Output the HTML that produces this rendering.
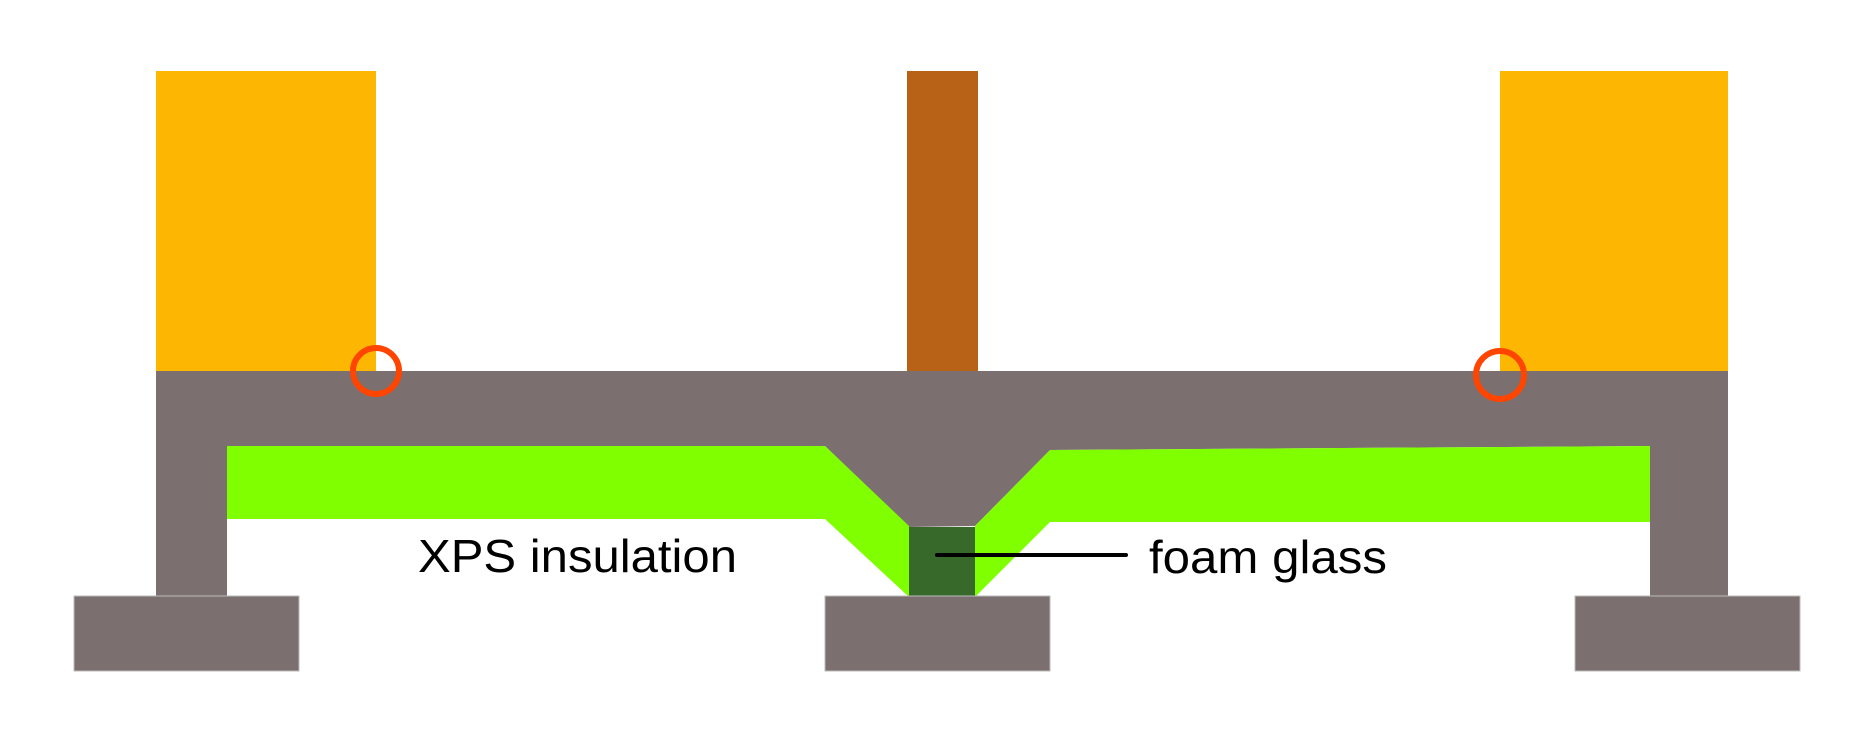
<!DOCTYPE html>
<html><head><meta charset="utf-8"><style>html,body{margin:0;padding:0;background:#fff;}svg{display:block}</style></head>
<body>
<svg width="1875" height="750" viewBox="0 0 1875 750" xmlns="http://www.w3.org/2000/svg">
<rect width="1875" height="750" fill="#fff"/>
<rect x="156" y="71" width="220" height="300" fill="#fdb703"/>
<rect x="1500" y="71" width="228" height="300" fill="#fdb703"/>
<rect x="907" y="71" width="71" height="300" fill="#b86218"/>
<polygon points="156,371 1728,371 1728,446 1650,446 1050,450 975,526 909,527 825,446 156,446" fill="#7b6f6f"/>
<rect x="156" y="446" width="71" height="151" fill="#7b6f6f"/>
<rect x="1650" y="446" width="78" height="151" fill="#7b6f6f"/>
<polygon points="227,446 825,446 909,526 909,597 825,519 227,519" fill="#80ff00"/>
<polygon points="975,526 1050,450 1650,446 1650,522 1050,522 975,597" fill="#80ff00"/>
<rect x="909" y="527" width="66" height="70" fill="#37692b"/>
<rect x="74" y="596" width="225" height="75" fill="#7b6f6f" stroke="#bbb" stroke-width="1"/>
<rect x="825" y="596" width="225" height="75" fill="#7b6f6f" stroke="#bbb" stroke-width="1"/>
<rect x="1575" y="596" width="225" height="75" fill="#7b6f6f" stroke="#bbb" stroke-width="1"/>
<circle cx="376" cy="371" r="23" fill="none" stroke="#ff4500" stroke-width="6"/>
<circle cx="1500" cy="375" r="24" fill="none" stroke="#ff4500" stroke-width="6"/>
<line x1="937" y1="555" x2="1126" y2="555" stroke="#000" stroke-width="4" stroke-linecap="round"/>
<text x="418" y="572" font-family="Liberation Sans, sans-serif" font-size="46" textLength="319" lengthAdjust="spacingAndGlyphs">XPS insulation</text>
<text x="1149" y="573" font-family="Liberation Sans, sans-serif" font-size="46" textLength="238" lengthAdjust="spacingAndGlyphs">foam glass</text>
</svg>
</body></html>
